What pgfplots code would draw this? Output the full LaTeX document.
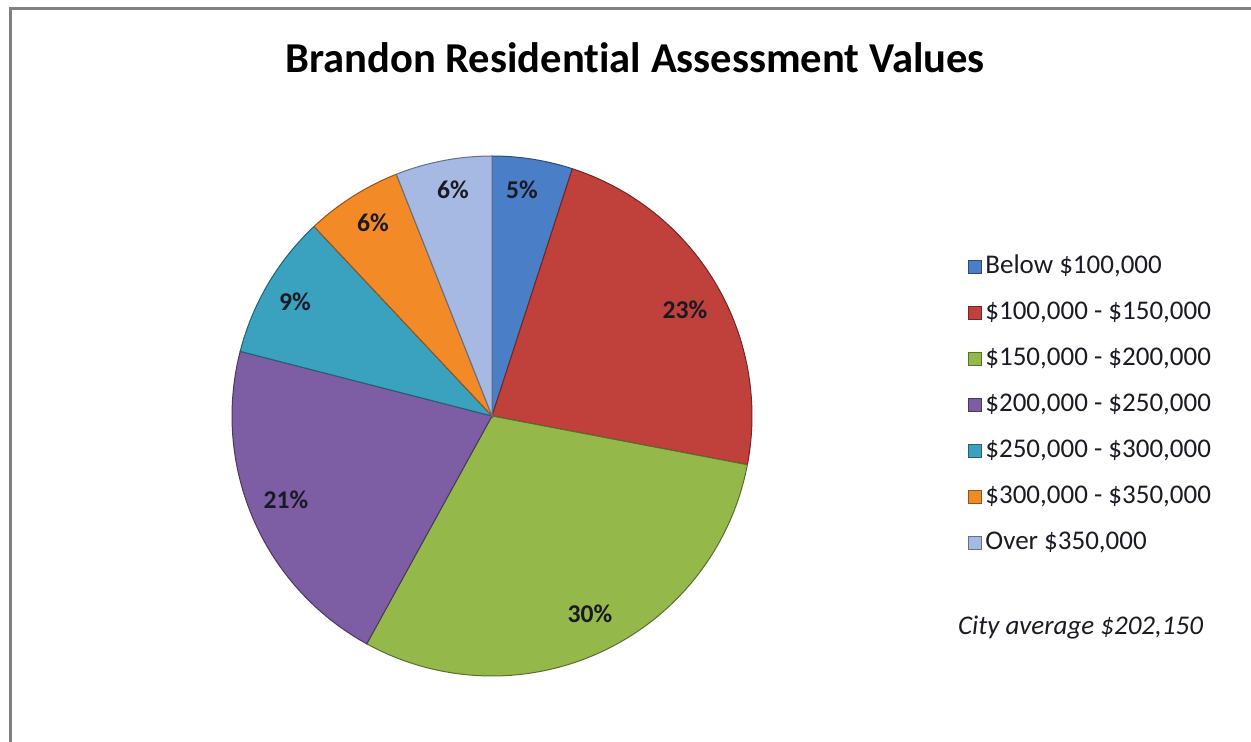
\documentclass[border=0pt]{standalone}
\usepackage{pgfplots}
\pgfplotsset{compat=1.18}
\usepackage{fontspec}
\setmainfont{Carlito}[Ligatures=NoCommon]
\definecolor{cA}{HTML}{4A7FC8}
\definecolor{cB}{HTML}{C0403B}
\definecolor{cC}{HTML}{94B94A}
\definecolor{cD}{HTML}{7D5DA3}
\definecolor{cE}{HTML}{3AA2BF}
\definecolor{cF}{HTML}{F38A28}
\definecolor{cG}{HTML}{A6B9E2}
\definecolor{txt}{HTML}{1A1A24}
\definecolor{frame}{HTML}{808080}
\begin{document}
\begin{tikzpicture}[x=0.5pt,y=-0.5pt]
\path[use as bounding box] (0,0) rectangle (1251,742);
\draw[frame, line width=1.5pt] (10,800) -- (10,9) -- (1300,9);
\node[font=\bfseries\fontsize{21.3}{25}\selectfont, text=black] at (635,58) {Brandon Residential Assessment Values};
% slice shares (percent): 5, 23, 30, 21, 9, 6, 6 ; clockwise from 90 deg, 3.6 deg per percent
\begin{axis}[at={(246pt,-208pt)}, anchor=center, width=260pt, height=260pt, scale only axis,
  xmin=-1, xmax=1, ymin=-1, ymax=1, hide axis, clip=false,
  legend image code/.code={\fill[#1] (0pt,-3.25pt) rectangle (6.5pt,3.25pt);},
  legend cell align=left,
  legend style={at={(1.4154,0.8173)}, anchor=north west, draw=none, fill=none,
    inner sep=0pt, row sep=7.5pt,
    font=\fontsize{13.5}{15}\selectfont, text=txt,
    nodes={inner sep=1.5pt, text height=9.5pt, text depth=3pt}},
]
\addplot[fill=cA, draw=cA!60!black, line width=0.5pt, domain=72:90, samples=20] ({cos(x)},{sin(x)}) -- (axis cs:0,0) -- cycle;
\addlegendentry{Below \$100,000}
\addplot[fill=cB, draw=cB!60!black, line width=0.5pt, domain=-10.8:72, samples=50] ({cos(x)},{sin(x)}) -- (axis cs:0,0) -- cycle;
\addlegendentry{\$100,000 - \$150,000}
\addplot[fill=cC, draw=cC!60!black, line width=0.5pt, domain=-118.8:-10.8, samples=60] ({cos(x)},{sin(x)}) -- (axis cs:0,0) -- cycle;
\addlegendentry{\$150,000 - \$200,000}
\addplot[fill=cD, draw=cD!60!black, line width=0.5pt, domain=-194.4:-118.8, samples=50] ({cos(x)},{sin(x)}) -- (axis cs:0,0) -- cycle;
\addlegendentry{\$200,000 - \$250,000}
\addplot[fill=cE, draw=cE!60!black, line width=0.5pt, domain=-226.8:-194.4, samples=25] ({cos(x)},{sin(x)}) -- (axis cs:0,0) -- cycle;
\addlegendentry{\$250,000 - \$300,000}
\addplot[fill=cF, draw=cF!60!black, line width=0.5pt, domain=-248.4:-226.8, samples=20] ({cos(x)},{sin(x)}) -- (axis cs:0,0) -- cycle;
\addlegendentry{\$300,000 - \$350,000}
\addplot[fill=cG, draw=cG!60!black, line width=0.5pt, domain=-270:-248.4, samples=20] ({cos(x)},{sin(x)}) -- (axis cs:0,0) -- cycle;
\addlegendentry{Over \$350,000}
\end{axis}
\begin{scope}[font=\bfseries\fontsize{12.8}{14}\selectfont, text=txt]
\node at (522,190) {5\%};
\node at (685,310) {23\%};
\node at (590,614) {30\%};
\node at (286,500) {21\%};
\node at (295,302) {9\%};
\node at (373,223) {6\%};
\node at (453,190) {6\%};
\end{scope}
\node[font=\itshape\fontsize{13.5}{15}\selectfont, text=txt, anchor=west] at (951,628) {City average \$202,150};
\end{tikzpicture}
\end{document}
